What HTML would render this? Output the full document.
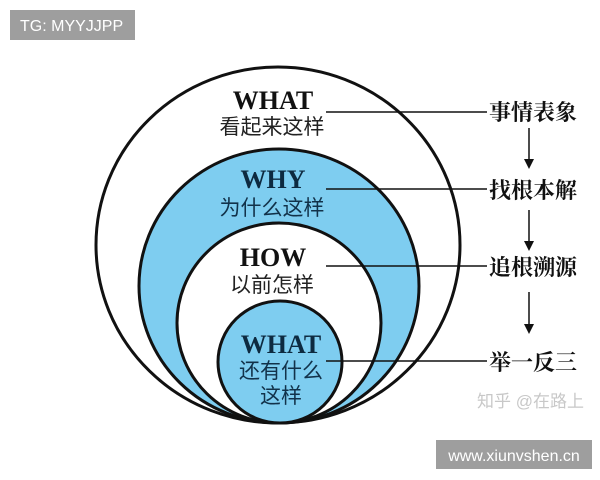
<!DOCTYPE html>
<html><head><meta charset="utf-8"><style>
html,body{margin:0;padding:0;background:#fff;width:600px;height:480px;overflow:hidden}
</style></head><body>
<svg width="600" height="480" xmlns="http://www.w3.org/2000/svg">
<rect x="10" y="10" width="125" height="30" fill="#9e9e9e"/>
<text x="20" y="31" font-family="Liberation Sans, sans-serif" font-size="16" fill="#fff">TG: MYYJJPP</text>
<g stroke="#111" stroke-width="3">
<ellipse cx="278" cy="245" rx="182" ry="178" fill="#fff"/>
<ellipse cx="279" cy="286" rx="140" ry="137" fill="#7ecdf0"/>
<ellipse cx="279" cy="323" rx="102" ry="100" fill="#fff"/>
<ellipse cx="280" cy="362" rx="62" ry="61" fill="#7ecdf0"/>
</g>
<g stroke="#111" stroke-width="1.5">
<line x1="326" y1="112" x2="487" y2="112"/>
<line x1="326" y1="189" x2="487" y2="189"/>
<line x1="326" y1="266" x2="487" y2="266"/>
<line x1="326" y1="361" x2="487" y2="361"/>
<line x1="529" y1="128" x2="529" y2="160"/>
<line x1="529" y1="210" x2="529" y2="242"/>
<line x1="529" y1="292" x2="529" y2="325"/>
</g>
<g fill="#111">
<path d="M524,159 L534,159 L529,169 Z"/>
<path d="M524,241 L534,241 L529,251 Z"/>
<path d="M524,324 L534,324 L529,334 Z"/>
</g>
<g font-family="Liberation Serif, serif" font-weight="bold" font-size="26" fill="#111" text-anchor="middle">
<text x="273" y="109">WHAT</text>
<text x="273" y="188" fill="#0d2a40">WHY</text>
<text x="273" y="266">HOW</text>
<text x="281" y="353" fill="#0d2a40">WHAT</text>
</g>
<g font-family="Liberation Sans, Noto Sans CJK SC, sans-serif" font-size="21" fill="#222" text-anchor="middle">
<text x="272" y="134">看起来这样</text>
<text x="272" y="215" fill="#12324a">为什么这样</text>
<text x="272" y="292">以前怎样</text>
<text x="281" y="378" fill="#12324a">还有什么</text>
<text x="281" y="403" fill="#12324a">这样</text>
</g>
<g font-family="Liberation Serif, Noto Serif CJK SC, serif" font-weight="bold" font-size="22" fill="#111">
<text x="489" y="120">事情表象</text>
<text x="489" y="198">找根本解</text>
<text x="489" y="275">追根溯源</text>
<text x="489" y="370">举一反三</text>
</g>
<text x="477" y="407" font-family="Liberation Sans, Noto Sans CJK SC, sans-serif" font-size="17" fill="#c8c8c8">知乎 @在路上</text>
<rect x="436" y="440" width="156" height="29" fill="#9e9e9e"/>
<text x="514" y="461" text-anchor="middle" font-family="Liberation Sans, sans-serif" font-size="16" fill="#fff">www.xiunvshen.cn</text>
</svg>
</body></html>
